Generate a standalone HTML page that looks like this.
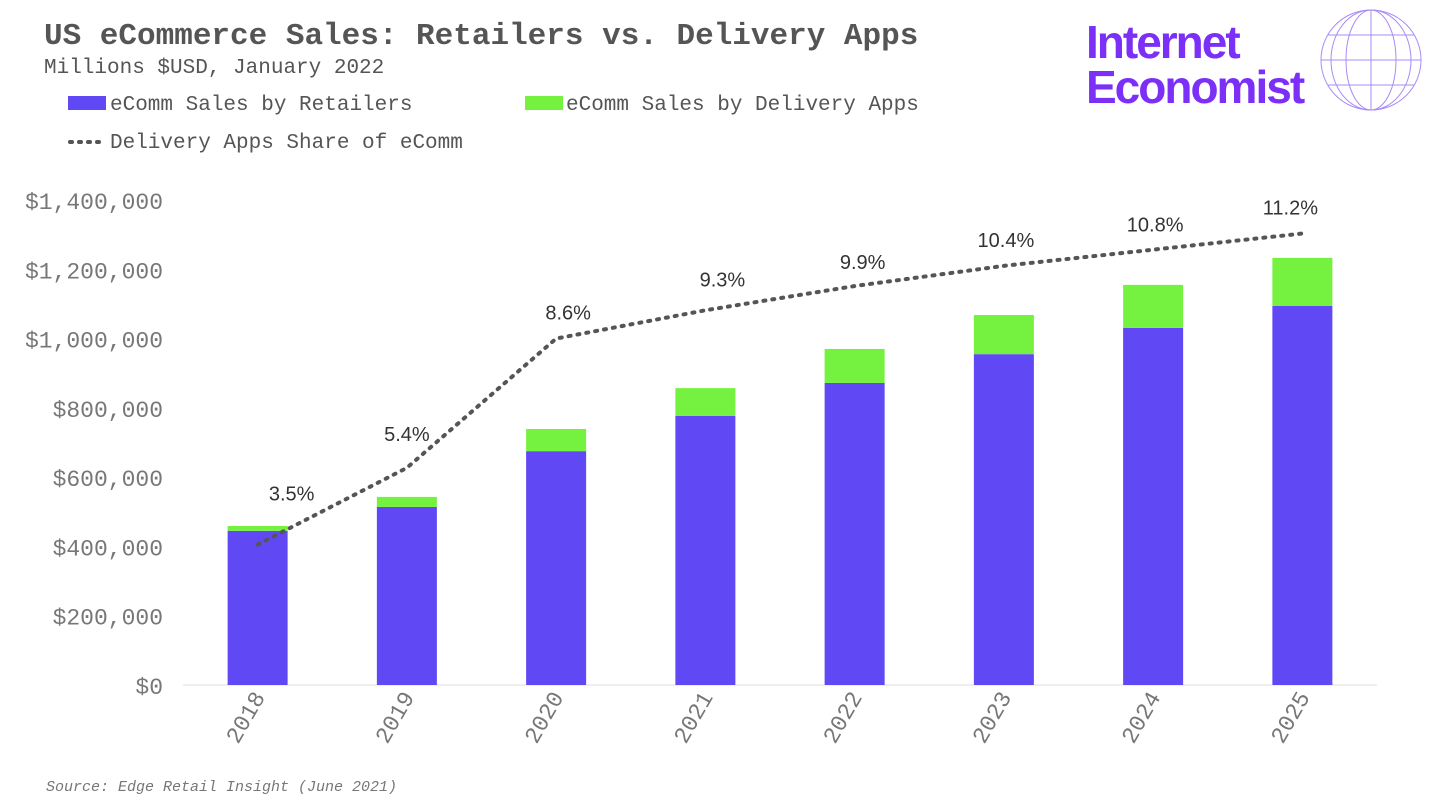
<!DOCTYPE html>
<html><head><meta charset="utf-8"><style>
body{margin:0;width:1440px;height:810px;background:#fff;overflow:hidden;font-family:"Liberation Mono",monospace;}
svg{position:absolute;left:0;top:0}
</style></head><body>
<svg width="1440" height="810" id="c">
<text x="44" y="44" font-size="31" font-weight="bold" fill="#555" font-family="Liberation Mono">US eCommerce Sales: Retailers vs. Delivery Apps</text>
<text x="44" y="73" font-size="21" fill="#555" font-family="Liberation Mono">Millions $USD, January 2022</text>
<g>
<rect x="68" y="96" width="38" height="14" fill="#6148F5"/>
<text x="110" y="110" font-size="21" fill="#555">eComm Sales by Retailers</text>
<rect x="525" y="96" width="38" height="14" fill="#75F23F"/>
<text x="566" y="110" font-size="21" fill="#555">eComm Sales by Delivery Apps</text>
<line x1="70" y1="142" x2="102" y2="142" stroke="#555" stroke-width="4" stroke-dasharray="2,7" stroke-linecap="round"/>
<text x="110" y="148" font-size="21" fill="#555">Delivery Apps Share of eComm</text>
</g>
<g>
<text x="1086" y="58" font-size="46" font-weight="bold" fill="#7B2FF7" font-family="Liberation Sans" letter-spacing="-2">Internet</text>
<text x="1086" y="103" font-size="46" font-weight="bold" fill="#7B2FF7" font-family="Liberation Sans" letter-spacing="-2">Economist</text>
<g fill="none" stroke="#A98BF7" stroke-width="1">
<circle cx="1371" cy="60" r="50"/><ellipse cx="1371" cy="60" rx="25" ry="50"/><ellipse cx="1371" cy="60" rx="40" ry="50"/><line x1="1371" y1="10" x2="1371" y2="110"/>
<line x1="1321" y1="60" x2="1421" y2="60"/><line x1="1328" y1="35" x2="1414" y2="35"/><line x1="1328" y1="85" x2="1414" y2="85"/>
</g></g>
<g id="axes"></g><g id="bars"></g><g id="line"></g>
<text x="46" y="791" font-size="15" font-style="italic" fill="#777">Source: Edge Retail Insight (June 2021)</text>
</svg>
<script>
const years=["2018","2019","2020","2021","2022","2023","2024","2025"];
const retailers=[445000,514000,675000,777000,872000,955000,1031000,1094000];
const delivery=[14000,29000,64000,80000,98000,113000,124000,139000];
const share=[3.5,5.4,8.6,9.3,9.9,10.4,10.8,11.2];
const shareLabels=["3.5%","5.4%","8.6%","9.3%","9.9%","10.4%","10.8%","11.2%"];
const yTicks=[0,200000,400000,600000,800000,1000000,1200000,1400000];
const NS="http://www.w3.org/2000/svg";
const base=685,plotTop=200,left=183,right=1377;
const labelDx=[34,0,12,17,8,2,2,-12];
const labelDy=[44,27,19,24,17,19,18,19];
const y=v=>base-(v/1400000)*(base-plotTop);
const y2=p=>686-p*40.4;
const step=(right-left)/years.length;
const x=i=>left+step*(i+0.5);
function mk(t,a,p){const e=document.createElementNS(NS,t);for(const k in a)e.setAttribute(k,a[k]);p.appendChild(e);return e;}
const ax=document.getElementById('axes'),bg=document.getElementById('bars'),lg=document.getElementById('line');
yTicks.forEach(v=>{const t=mk('text',{x:163,y:y(v)+9,'font-size':23,fill:'#777','text-anchor':'end'},ax);t.textContent='$'+v.toLocaleString('en-US');

});
const bl=mk('line',{x1:left,x2:right,y1:base,y2:base,stroke:'#ddd'},ax);


years.forEach((yr,i)=>{
const r=mk('rect',{x:x(i)-30,width:60,y:y(retailers[i]),height:base-y(retailers[i]),fill:'#6148F5'},bg);


const d=mk('rect',{x:x(i)-30,width:60,y:y(retailers[i]+delivery[i]),height:y(retailers[i])-y(retailers[i]+delivery[i]),fill:'#75F23F'},bg);


const t=mk('text',{x:0,y:0,'font-size':23,fill:'#777','text-anchor':'end',transform:`translate(${x(i)+8},${base+12}) rotate(-60)`},ax);t.textContent=yr;


const l=mk('text',{x:x(i)+labelDx[i],y:y2(share[i])-labelDy[i],'font-size':20,fill:'#333','text-anchor':'middle','font-family':'Liberation Sans'},lg);l.textContent=shareLabels[i];


});
const pl=mk('polyline',{points:share.map((p,i)=>x(i)+','+y2(p)).join(' '),fill:'none',stroke:'#555','stroke-width':4,'stroke-dasharray':'2,7','stroke-linecap':'round'},lg);


</script>
</body></html>
